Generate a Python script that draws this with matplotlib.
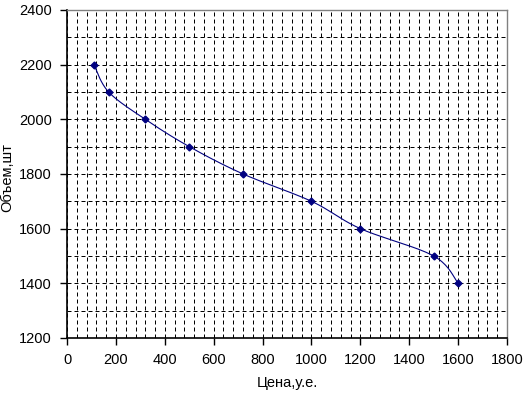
import numpy as np
import matplotlib.pyplot as plt
from matplotlib.ticker import MultipleLocator

plt.rcParams["font.family"] = ["Liberation Sans", "DejaVu Sans"]

PRICE = [110, 170, 320, 500, 720, 1000, 1200, 1500, 1600]
VOLUME = [2200, 2100, 2000, 1900, 1800, 1700, 1600, 1500, 1400]
NAVY = "#000080"


def smooth(xs, ys, steps=20):
    """Catmull-Rom curve through the points, like Excel's smoothed line."""
    pts = np.column_stack([xs, ys]).astype(float)
    pts = np.vstack([pts[0], pts, pts[-1]])
    out = []
    for i in range(1, len(pts) - 2):
        p0, p1, p2, p3 = pts[i - 1], pts[i], pts[i + 1], pts[i + 2]
        for t in np.linspace(0, 1, steps, endpoint=False):
            out.append(0.5 * (2 * p1 + (-p0 + p2) * t
                              + (2 * p0 - 5 * p1 + 4 * p2 - p3) * t ** 2
                              + (-p0 + 3 * p1 - 3 * p2 + p3) * t ** 3))
    out.append(pts[-2])
    out = np.array(out)
    return out[:, 0], out[:, 1]


fig = plt.figure(figsize=(5.24, 3.93), dpi=100)
ax = fig.add_axes([0.128, 0.140, 0.8396, 0.8346])

sx, sy = smooth(PRICE, VOLUME)
ax.plot(sx, sy, color=NAVY, linewidth=0.8)
ax.plot(PRICE, VOLUME, linestyle="none", marker="D", markersize=3.5,
        color=NAVY)

ax.set_xlim(0, 1800)
ax.set_ylim(1200, 2400)
ax.xaxis.set_major_locator(MultipleLocator(200))
ax.xaxis.set_minor_locator(MultipleLocator(40))
ax.yaxis.set_major_locator(MultipleLocator(200))
ax.yaxis.set_minor_locator(MultipleLocator(100))
ax.grid(which="both", color="black", linestyle=(0, (4, 3)), linewidth=0.72)
ax.set_axisbelow(True)
ax.tick_params(which="major", direction="out", length=5, width=1,
               labelsize=10.5, pad=6)
ax.tick_params(which="minor", length=0)

for side in ("left", "bottom"):
    ax.spines[side].set_color("black")
    ax.spines[side].set_linewidth(1.2)
for side in ("top", "right"):
    ax.spines[side].set_color("#808080")
    ax.spines[side].set_linewidth(1)

ax.set_xlabel("Цена,у.е.", fontsize=10.5, labelpad=6)
ax.set_ylabel("Объем,шт", fontsize=10.5)
ax.yaxis.set_label_coords(-0.12, 0.49)

fig.savefig("out.png", dpi=100)
